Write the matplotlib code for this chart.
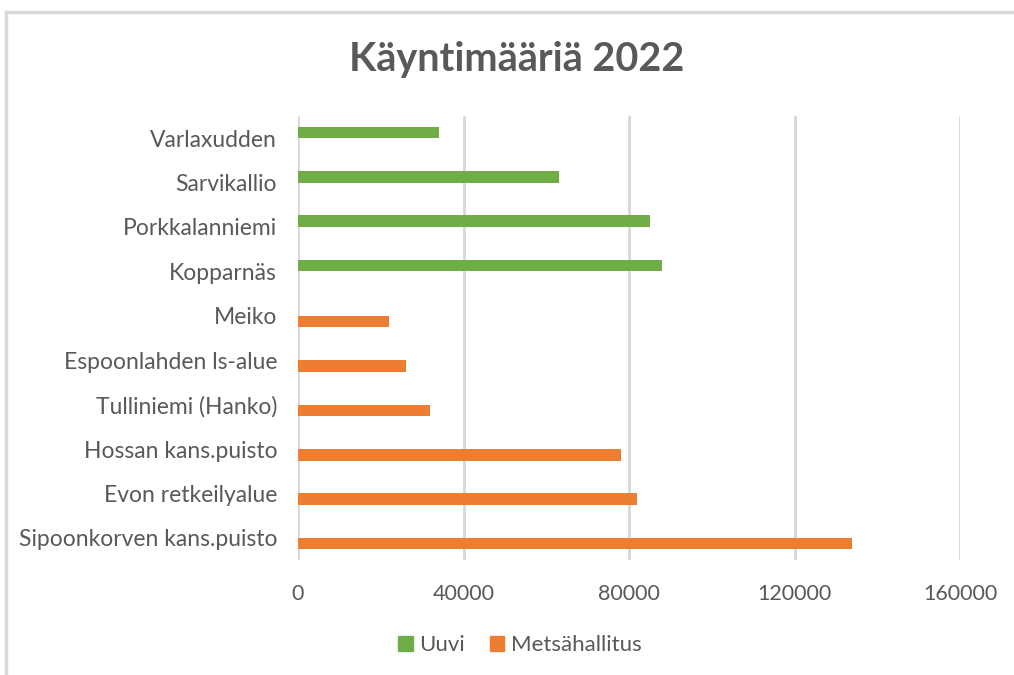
import matplotlib.pyplot as plt
from matplotlib.lines import Line2D
from matplotlib.patches import Patch
import numpy as np

### DATA ###

sites = ["Varlaxudden", "Sarvikallio", "Porkkalanniemi", "Kopparnäs", "Meiko",
         "Espoonlahden ls-alue", "Tulliniemi (Hanko)", "Hossan kans.puisto",
         "Evon retkeilyalue", "Sipoonkorven kans.puisto"]
uuvi = [34000, 63000, 85000, 88000, 0, 0, 0, 0, 0, 0]
metsahallitus = [0, 0, 0, 0, 22000, 26000, 32000, 78000, 82000, 134000]
xticks = [0, 40000, 80000, 120000, 160000]

### STYLE ###

GREEN = "#70ad47"
ORANGE = "#ed7d31"
TEXT = "#595959"
GRID = "#d9d9d9"
plt.rcParams['font.family'] = ['Lato', 'DejaVu Sans']

W, H = 1014, 675
fig = plt.figure(figsize=(W / 100, H / 100), dpi=100)
ax = fig.add_axes([298 / W, 1 - 560 / H, (960 - 298) / W, (560 - 116) / H])

y = np.arange(len(sites))
h = 0.263
ax.barh(y - h / 2, uuvi, height=h, color=GREEN, zorder=3)
ax.barh(y + h / 2, metsahallitus, height=h, color=ORANGE, zorder=3)

ax.set_ylim(len(sites) - 0.5, -0.5)
ax.set_xlim(0, 160000)
ax.set_yticks(y)
ax.set_yticklabels(sites, fontsize=16.5, color=TEXT)
ax.set_xticks(xticks)
ax.set_xticklabels([str(v) for v in xticks], fontsize=15.5, color=TEXT)
ax.tick_params(axis='y', length=0, pad=15)
ax.tick_params(axis='x', length=0, pad=17)
ax.grid(axis='x', color=GRID, linewidth=2.1, zorder=0)
for s in ax.spines.values():
    s.set_visible(False)

fig.text(517 / W, 1 - 71 / H, "Käyntimääriä 2022", ha='center', va='baseline',
         fontsize=28.5, fontweight='bold', color=TEXT)

handles = [Patch(color=GREEN, label="Uuvi"), Patch(color=ORANGE, label="Metsähallitus")]
fig.legend(handles=handles, loc='center', bbox_to_anchor=(520 / W, 1 - 645 / H), ncol=2,
           frameon=False, fontsize=16, labelcolor=TEXT, handlelength=0.65, handleheight=0.65,
           handletextpad=0.3, columnspacing=1.1)

# chart area border (cropped on the right and bottom)
fig.add_artist(Line2D([6 / W, 6 / W], [0, 1 - 12 / H], color=GRID, linewidth=2.5))
fig.add_artist(Line2D([6 / W, 1], [1 - 12 / H, 1 - 12 / H], color=GRID, linewidth=2.5))

fig.savefig("out.png", dpi=100)
